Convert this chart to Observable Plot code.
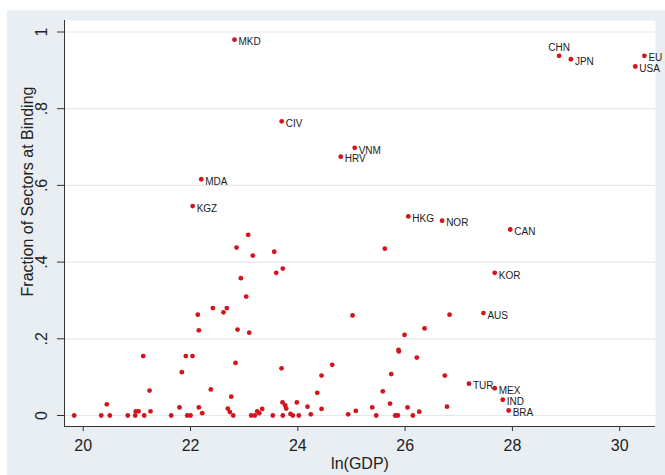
<!DOCTYPE html>
<html>
<head>
<meta charset="utf-8">
<script src="https://cdn.jsdelivr.net/npm/d3@7"></script>
<script src="https://cdn.jsdelivr.net/npm/@observablehq/plot@0.6"></script>
<style>
  html, body { margin: 0; padding: 0; background: #ffffff; }
  #wrap { position: absolute; left: 7px; top: 10px; width: 658px; height: 465px; background: #e8eef2; }
  svg { display: block; }
</style>
</head>
<body>
<div id="wrap"></div>
<script>
// Labeled countries
const countries = ["MKD","CHN","JPN","EU","USA","CIV","VNM","HRV","MDA","KGZ","HKG","NOR","CAN","KOR","AUS","TUR","MEX","IND","BRA"];
const countryGDP = [22.82,28.87,29.09,30.46,30.29,23.70,25.06,24.80,22.20,22.04,26.06,26.69,27.96,27.67,27.46,27.19,27.67,27.82,27.93];
const countryFrac = [0.980,0.938,0.929,0.938,0.910,0.767,0.698,0.675,0.616,0.546,0.519,0.508,0.485,0.372,0.267,0.083,0.071,0.041,0.013];

// Unlabeled countries
const otherGDP = [
  23.075,22.857,23.161,23.560,23.720,23.597,22.938,23.038,22.416,22.677,22.615,22.136,22.155,22.876,23.094,
  25.020,25.622,26.828,26.362,25.989,25.877,25.883,26.218,
  21.118,21.912,22.037,21.838,22.839,23.696,24.641,24.442,25.741,26.740,
  21.236,22.378,24.362,25.584,22.759,20.440,21.795,22.155,22.695,23.715,23.981,23.765,23.784,24.181,24.442,
  25.719,25.387,26.045,26.781,20.980,21.031,21.254,22.218,22.733,23.243,23.281,23.336,23.864,24.242,24.939,25.081,26.263,
  19.832,20.336,20.496,20.831,20.969,21.137,21.640,21.938,22.000,22.796,23.131,23.199,23.534,23.720,23.907,24.018,25.461,25.815,25.864,26.144
];
const otherFrac = [
  0.471,0.438,0.417,0.427,0.383,0.372,0.358,0.310,0.280,0.280,0.269,0.263,0.222,0.224,0.216,
  0.261,0.435,0.263,0.227,0.210,0.171,0.167,0.151,
  0.155,0.155,0.155,0.113,0.137,0.123,0.132,0.104,0.108,0.104,
  0.065,0.068,0.059,0.063,0.049,0.029,0.021,0.021,0.018,0.034,0.034,0.026,0.018,0.023,0.017,
  0.031,0.021,0.021,0.023,0.011,0.011,0.011,0.006,0.009,0.011,0.006,0.017,0.004,0.003,0.003,0.012,0.010,
  0,0,0,0,0,0,0,0,0,0,0,0,0,0,0,0,0,0,0,0
];

const xTicks = [20,22,24,26,28,30];
const yTicks = [0,0.2,0.4,0.6,0.8,1];

const labeled = countries.map((c,i) => ({code:c, x:countryGDP[i], y:countryFrac[i]}));
const others = otherGDP.map((x,i) => ({x, y:otherFrac[i]}));
const allPts = labeled.concat(others);

const xDomain = [19.651, 30.667];
const yDomain = [-0.0287, 1.030];
const fmtY = d => d === 0 ? "0" : d === 1 ? "1" : String(d).replace(/^0/, "");
const above = new Set(["CHN"]);
const red = "#d3141d";
const font = "'Liberation Sans', Arial, Helvetica, sans-serif";

const chart = Plot.plot({
  width: 658,
  height: 465,
  marginLeft: 57,
  marginRight: 10,
  marginTop: 10,
  marginBottom: 49,
  style: {background: "transparent", fontFamily: font, color: "#222"},
  x: {domain: xDomain, axis: null},
  y: {domain: yDomain, axis: null},
  marks: [
    Plot.frame({fill: "#ffffff", stroke: null}),
    Plot.gridY(yTicks, {stroke: "#e2e9ee", strokeOpacity: 1, strokeWidth: 1.2}),
    Plot.axisX({ticks: xTicks, tickSize: 5, tickPadding: 8, fontSize: 16, label: null, stroke: "#333"}),
    Plot.axisY({ticks: yTicks, tickSize: 7, tickFormat: () => "", label: null, stroke: "#333"}),
    Plot.ruleX([xDomain[0]], {stroke: "#333", strokeWidth: 1}),
    Plot.ruleY([yDomain[0]], {stroke: "#333", strokeWidth: 1}),
    Plot.text(yTicks, {y: d => d, text: fmtY, frameAnchor: "left", textAnchor: "middle", lineAnchor: "middle", dx: -23, rotate: -90, fontSize: 16, fill: "#222"}),
    Plot.text(["Fraction of Sectors at Binding"], {frameAnchor: "left", textAnchor: "middle", lineAnchor: "middle", dx: -37, dy: -32, rotate: -90, fontSize: 16, fill: "#222"}),
    Plot.text(["ln(GDP)"], {frameAnchor: "bottom", textAnchor: "middle", lineAnchor: "middle", dy: 37, fontSize: 16, fill: "#222"}),
    Plot.dot(allPts, {x: "x", y: "y", r: 2.4, fill: red, stroke: null}),
    Plot.text(labeled.filter(d => !above.has(d.code)), {x: "x", y: "y", text: "code", textAnchor: "start", dx: 4, dy: 2.5, fontSize: 10, fill: "#1a1a1a"}),
    Plot.text(labeled.filter(d => above.has(d.code)), {x: "x", y: "y", text: "code", textAnchor: "middle", dy: -7.5, fontSize: 10, fill: "#1a1a1a"})
  ]
});
document.getElementById("wrap").appendChild(chart);
</script>
</body>
</html>
